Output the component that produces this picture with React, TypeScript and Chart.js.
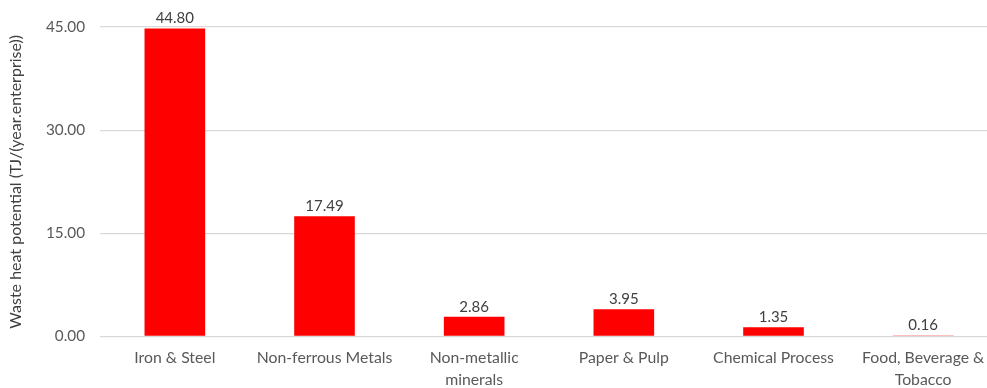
import React, { useEffect, useRef } from "react";
import { Chart, registerables } from "chart.js";

Chart.register(...registerables);

const categories: (string | string[])[] = [
  "Iron & Steel",
  "Non-ferrous Metals",
  ["Non-metallic", "minerals"],
  "Paper & Pulp",
  "Chemical Process",
  ["Food, Beverage &", "Tobacco"],
];

const wasteHeat: number[] = [44.8, 17.49, 2.86, 3.95, 1.35, 0.16];

const yTicks: number[] = [0, 15, 30, 45];

const FONT = "Lato, 'Open Sans', sans-serif";
const TEXT = "#595959";

// Writes each bar's value just above its top edge
const valueLabels = {
  id: "valueLabels",
  afterDatasetsDraw(chart: any) {
    const { ctx } = chart;
    const meta = chart.getDatasetMeta(0);
    const data = chart.data.datasets[0].data as number[];
    ctx.save();
    ctx.font = `15px ${FONT}`;
    ctx.fillStyle = "#404040";
    ctx.textAlign = "center";
    ctx.textBaseline = "alphabetic";
    meta.data.forEach((bar: any, i: number) => {
      ctx.fillText(data[i].toFixed(2), bar.x, bar.y - 5);
    });
    ctx.restore();
  },
};

export default function App() {
  const canvasRef = useRef<HTMLCanvasElement | null>(null);

  useEffect(() => {
    if (!canvasRef.current) return;
    const chart = new Chart(canvasRef.current, {
      type: "bar",
      data: {
        labels: categories,
        datasets: [
          {
            data: wasteHeat,
            backgroundColor: "#FF0000",
            barPercentage: 0.405,
            categoryPercentage: 1,
          },
        ],
      },
      options: {
        responsive: false,
        animation: false,
        devicePixelRatio: 1,
        layout: { padding: { top: 27, right: 7, left: 0, bottom: 0 } },
        plugins: {
          legend: { display: false },
          tooltip: { enabled: false },
        },
        scales: {
          x: {
            grid: { display: false, drawTicks: false },
            border: { display: false },
            ticks: {
              color: TEXT,
              font: { family: FONT, size: 15.8, lineHeight: 1.35 },
              padding: 11,
              maxRotation: 0,
              autoSkip: false,
            },
            afterFit: (scale: any) => {
              scale.height = 51.5;
            },
          },
          y: {
            min: 0,
            max: 45,
            afterBuildTicks: (scale: any) => {
              scale.ticks = yTicks.map((v) => ({ value: v }));
            },
            grid: { color: "#d9d9d9", lineWidth: 1.3, drawTicks: false },
            border: { display: false },
            ticks: {
              color: TEXT,
              font: { family: FONT, size: 15.3 },
              padding: 15,
              callback: (v: any) => Number(v).toFixed(2),
            },
            title: {
              display: true,
              text: "Waste heat potential (TJ/(year.enterprise))",
              color: "#404040",
              font: { family: FONT, size: 16 },
              padding: { top: 6, bottom: 0 },
            },
            afterFit: (scale: any) => {
              scale.width = 100;
            },
          },
        },
      },
      plugins: [valueLabels],
    });
    return () => chart.destroy();
  }, []);

  return (
    <div
      style={{
        position: "fixed",
        left: 0,
        top: 0,
        width: 987,
        height: 388,
        overflow: "hidden",
        background: "#ffffff",
      }}
    >
      <canvas ref={canvasRef} width={1005} height={388} />
    </div>
  );
}
